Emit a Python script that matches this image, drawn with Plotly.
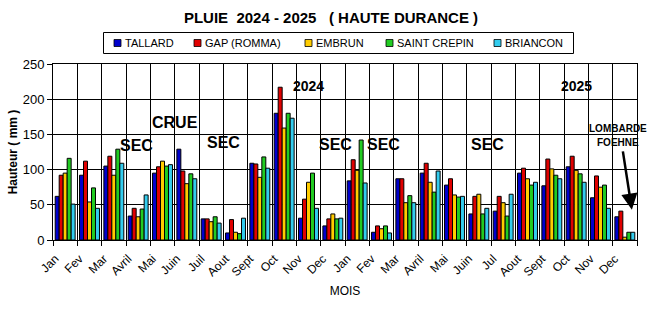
import plotly.graph_objects as go

months = ["Jan", "Fev", "Mar", "Avril", "Mai", "Juin", "Juil", "Aout", "Sept", "Oct", "Nov", "Dec",
          "Jan", "Fev", "Mar", "Avril", "Mai", "Juin", "Jul", "Aout", "Sept", "Oct", "Nov", "Dec"]

tallard = [62, 92, 105, 34, 95, 129, 30, 10, 109, 180, 31, 20,
           84, 11, 87, 95, 78, 37, 41, 95, 77, 104, 60, 33]
gap = [92, 112, 119, 45, 104, 98, 30, 29, 108, 217, 58, 30,
       114, 20, 87, 109, 87, 62, 62, 102, 115, 119, 91, 41]
embrun = [95, 54, 92, 33, 112, 80, 26, 11, 89, 159, 82, 37,
          99, 16, 53, 82, 64, 65, 53, 87, 101, 99, 75, 4]
saint_crepin = [116, 74, 129, 44, 105, 94, 33, 9, 118, 180, 95, 30,
                142, 20, 63, 68, 61, 37, 34, 78, 92, 94, 78, 11]
briancon = [51, 45, 109, 64, 107, 87, 24, 31, 102, 173, 45, 31,
            81, 10, 53, 98, 62, 45, 65, 82, 87, 82, 45, 11]

series_names = ["TALLARD", "GAP (ROMMA)", "EMBRUN", "SAINT CREPIN", "BRIANCON"]
series_values = [tallard, gap, embrun, saint_crepin, briancon]
series_colors = ["#0000CC", "#E00000", "#FFCC00", "#22CC22", "#33CCEE"]

xpos = list(range(len(months)))
FONT = "Arial, Liberation Sans, sans-serif"

# plot-area geometry (pixels) used for the hand-built legend box
W, H = 650, 309
ML, MR, MT, MB = 53, 13, 64, 69
PW, PH = W - ML - MR, H - MT - MB


def xp(px):
    return (px - ML) / PW


def yp(py):
    return (H - MB - py) / PH


fig = go.Figure()
for name, vals, col in zip(series_names, series_values, series_colors):
    fig.add_trace(go.Bar(
        x=xpos, y=vals, name=name,
        marker=dict(color=col, line=dict(color="black", width=1)),
    ))

notes = [
    ("SEC", 2.95, 134, 16), ("CRUE", 4.53, 167, 16), ("SEC", 6.49, 138, 16),
    ("2024", 9.98, 219, 14), ("SEC", 11.09, 135, 16), ("SEC", 13.1, 135, 16),
    ("SEC", 17.34, 135, 16), ("2025", 21.0, 219, 14),
    ("LOMBARDE", 22.72, 159, 10), ("FOEHNE", 22.72, 139, 10),
]
anns = []
for t, x, y, s in notes:
    anns.append(dict(text="<b>%s</b>" % t, x=x, y=y, xref="x", yref="y",
                     showarrow=False, font=dict(family=FONT, size=s, color="black")))
anns.append(dict(text="", x=23.29, y=43, ax=22.91, ay=128, xref="x", yref="y",
                 axref="x", ayref="y", showarrow=True, arrowhead=2, arrowsize=1.3,
                 arrowwidth=2.5, arrowcolor="black"))

# legend (drawn by hand to reproduce the compact Excel-style legend box)
shapes = [dict(type="rect", xref="paper", yref="paper",
               x0=xp(103.5), x1=xp(573.5), y0=yp(53.5), y1=yp(32.5),
               line=dict(color="black", width=1), fillcolor="white", layer="below")]
leg_x = [114, 194, 305, 386, 494]
for lx, name, col in zip(leg_x, series_names, series_colors):
    shapes.append(dict(type="rect", xref="paper", yref="paper",
                       x0=xp(lx), x1=xp(lx + 7), y0=yp(46.5), y1=yp(39.5),
                       line=dict(color="black", width=0.8), fillcolor=col))
    anns.append(dict(text=name, x=xp(lx + 8.5), y=yp(43), xref="paper", yref="paper",
                     xanchor="left", yanchor="middle", showarrow=False,
                     font=dict(family=FONT, size=11, color="black")))

fig.update_layout(
    width=W, height=H,
    margin=dict(l=ML, r=MR, t=MT, b=MB),
    paper_bgcolor="white", plot_bgcolor="white",
    barmode="group", bargap=0.18, bargroupgap=0,
    font=dict(family=FONT, size=12, color="black"),
    title=dict(text="<b>PLUIE\u00a0 2024 - 2025\u00a0\u00a0 ( HAUTE DURANCE )</b>",
               x=331 / W, xanchor="center", y=1 - 18 / H, yanchor="middle",
               font=dict(family=FONT, size=15, color="black")),
    showlegend=False,
    annotations=anns,
    shapes=shapes,
)

fig.update_xaxes(
    range=[-0.5, len(months) - 0.5],
    tickmode="array", tickvals=xpos, ticktext=months,
    tickangle=-45, showgrid=False, ticks="",
    ticklabelshift=-10, ticklabelstandoff=6,
    minor=dict(tickmode="array", tickvals=[i - 0.5 for i in range(len(months) + 1)],
               showgrid=True, gridcolor="black", gridwidth=1,
               ticks="outside", ticklen=5, tickcolor="black"),
    showline=True, linecolor="black", linewidth=1, mirror=True,
    title=dict(text="MOIS", font=dict(family=FONT, size=12), standoff=8),
    tickfont=dict(family=FONT, size=12), zeroline=False,
)
fig.update_yaxes(
    range=[0, 250], dtick=50,
    showgrid=True, gridcolor="black", gridwidth=1,
    ticks="outside", ticklen=5, tickcolor="black",
    showline=True, linecolor="black", linewidth=1, mirror=True,
    title=dict(text="<b>Hauteur ( mm )</b>", font=dict(family=FONT, size=12), standoff=2),
    tickfont=dict(family=FONT, size=13), zeroline=False,
)

fig.write_html("out.html")
